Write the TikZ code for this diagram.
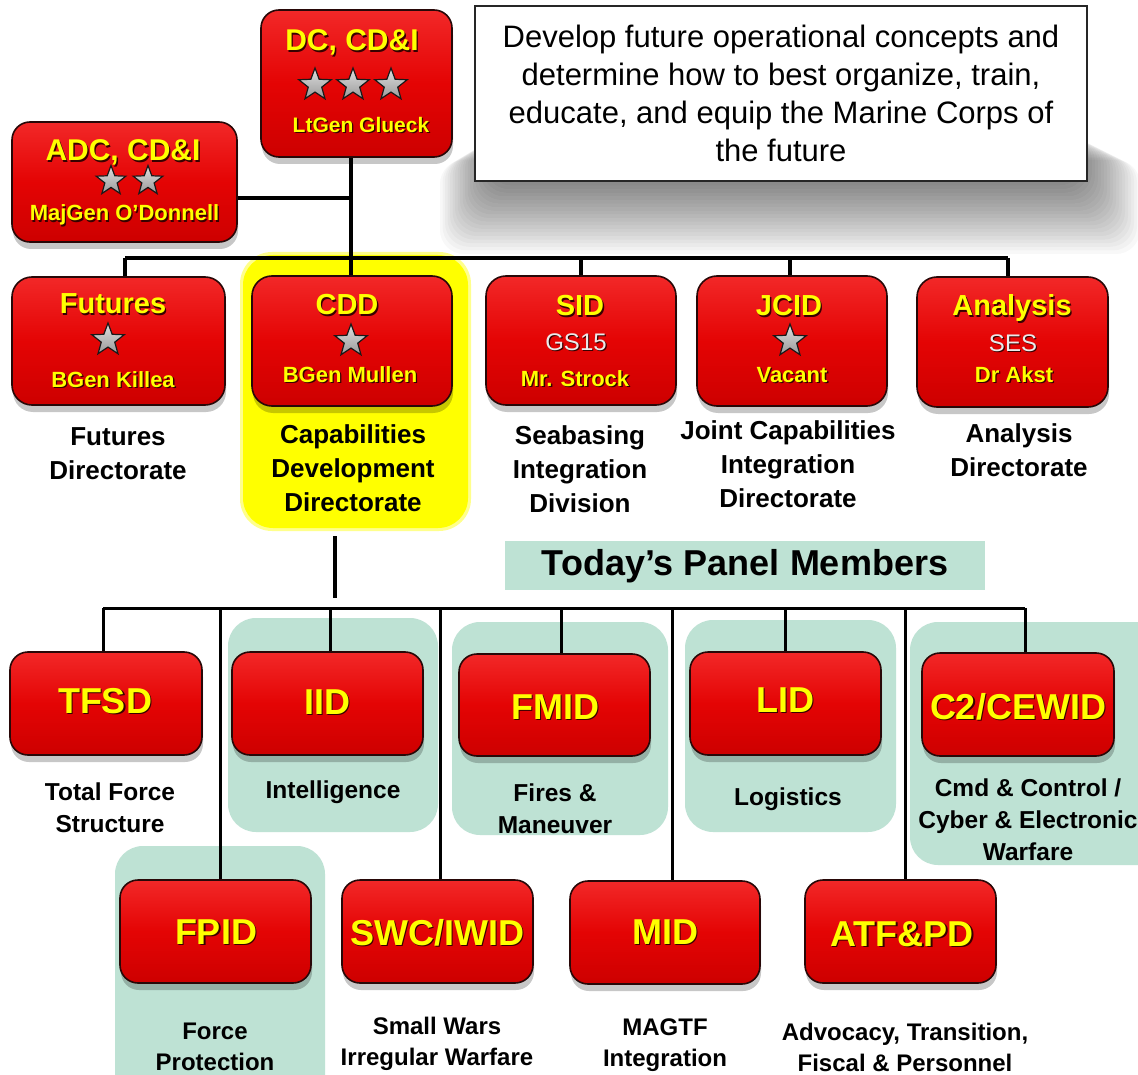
\documentclass[tikz,border=0pt]{standalone}
\usepackage{fontspec}
\setmainfont{Liberation Sans}
\usetikzlibrary{shapes.geometric,shadows}
\definecolor{boxred}{RGB}{228,4,4}
\definecolor{boxredtop}{RGB}{242,40,40}
\definecolor{boxreddark}{RGB}{205,0,0}
\definecolor{boxedge}{RGB}{40,8,8}
\definecolor{ttlyellow}{RGB}{255,255,0}
\definecolor{txtshadow}{RGB}{55,0,0}
\definecolor{panelgreen}{RGB}{190,226,212}
\definecolor{hiyellow}{RGB}{255,255,0}
\definecolor{gradetext}{RGB}{235,235,235}
\newcommand\fsz[2]{\fontsize{#1}{#2}\selectfont}
\newcommand\ys[1]{\leavevmode\rlap{\hspace{1.4pt}\raisebox{-1.4pt}{\textcolor{txtshadow}{#1}}}\textcolor{ttlyellow}{#1}}
\newcommand\ws[1]{\leavevmode\rlap{\hspace{1.2pt}\raisebox{-1.2pt}{\textcolor{txtshadow}{#1}}}\textcolor{gradetext}{#1}}
\begin{document}
\begin{tikzpicture}[x=1pt,y=-1pt,
  rbox/.style={rectangle, rounded corners=18pt, draw=boxedge, line width=1.6pt,
    top color=boxredtop, bottom color=boxreddark, middle color=boxred,
    drop shadow={shadow xshift=1pt, shadow yshift=-7pt, opacity=0.22, fill=black}, inner sep=0pt},
  ttlA/.style={inner sep=0pt, anchor=base, font=\bfseries\fsz{30}{30}},
  ttlB/.style={inner sep=0pt, anchor=base, font=\bfseries\fsz{29}{29}},
  ttlC/.style={inner sep=0pt, anchor=base, font=\bfseries\fsz{36}{36}},
  nameA/.style={inner sep=0pt, anchor=base, font=\bfseries\fsz{22}{22}},
  grade/.style={inner sep=0pt, anchor=base, font=\fsz{24}{24}},
  gstar/.style={star, star points=5, star point ratio=2.4, minimum size=34pt, inner sep=0pt,
    draw=black!90, line width=1.2pt, top color=gray!25, bottom color=gray!80},
  lblA/.style={inner sep=0pt, align=center, font=\bfseries\fsz{26}{34}},
  lblB/.style={inner sep=0pt, align=center, font=\bfseries\fsz{24.5}{32}},
  lblC/.style={inner sep=0pt, align=center, font=\bfseries\fsz{24}{31}},
  panel/.style={fill=panelgreen, rounded corners=28pt},
  conn/.style={line width=4.5pt, black},
  conn2/.style={line width=3pt, black}
]
\useasboundingbox (0,0) rectangle (1138,1075);
\fill[white] (0,0) rectangle (1138,1075);

% ---- description box with soft shadow
\foreach \i in {1,...,20} {\fill[black,opacity=0.028,rounded corners=24pt] (490-2.5*\i,130+1.5*\i) rectangle (1080+3*\i,182+3.6*\i);}
\node[draw=black!85, line width=1.6pt, fill=white, minimum width=612pt, minimum height=175pt,
  align=center, font=\fsz{31}{38}] (desc) at (781,93.5)
  {Develop future operational concepts and\\determine how to best organize, train,\\educate, and equip the Marine Corps of\\the future};

% ---- highlight and panels
\node[fill=hiyellow!45, rounded corners=32pt, minimum width=231pt, minimum height=279pt, inner sep=0pt] (cddglow) at (355.5,391.5) {};
\node[fill=hiyellow, rounded corners=30pt, minimum width=225pt, minimum height=273pt, inner sep=0pt] (cddhl) at (355.5,391.5) {};
\path[panel] (228,618) rectangle (438,832);
\path[panel] (452,622) rectangle (668,835);
\path[panel] (685,620) rectangle (896,832);
\path[panel] (910,622) rectangle (1170,865);
\path[panel] (115,846) rectangle (325,1110);
\node[fill=panelgreen, minimum width=480pt, minimum height=49pt, inner sep=0pt] (tpmbg) at (745,565.5) {};
\node[inner sep=0pt, font=\bfseries\fsz{36}{36}] (tpm) at (745,566) {Today’s Panel Members};

% ---- coordinates of junctions
\coordinate (j1) at (125,258);
\coordinate (j2) at (351,258);
\coordinate (j3) at (581,258);
\coordinate (j4) at (790,258);
\coordinate (j5) at (1008,258);
\coordinate (ja) at (351,198);
\coordinate (k1) at (103,608);
\coordinate (k2) at (220,608);
\coordinate (k3) at (330,608);
\coordinate (kc) at (335,608);
\coordinate (k4) at (440,608);
\coordinate (k5) at (561,608);
\coordinate (k6) at (672,608);
\coordinate (k7) at (785,608);
\coordinate (k8) at (905,608);
\coordinate (k9) at (1025,608);

% ---- boxes
\node[rbox, minimum width=191pt, minimum height=147pt] (dc) at (356.5,83.5) {};
\node[rbox, minimum width=225pt, minimum height=120pt] (adc) at (124.5,182) {};
\node[rbox, rounded corners=20pt, minimum width=213pt, minimum height=128pt] (fut) at (118.5,341) {};
\node[rbox, rounded corners=20pt, minimum width=200pt, minimum height=130pt] (cdd) at (352,341) {};
\node[rbox, rounded corners=20pt, minimum width=190pt, minimum height=129pt] (sid) at (581,340.5) {};
\node[rbox, rounded corners=20pt, minimum width=190pt, minimum height=130pt] (jcid) at (792,341) {};
\node[rbox, rounded corners=20pt, minimum width=191pt, minimum height=130pt] (ana) at (1012.5,342) {};

\node[rbox, minimum width=192pt, minimum height=103pt] (tfsd) at (106,703.5) {};
\node[rbox, minimum width=191pt, minimum height=103pt] (iid) at (327.5,703.5) {};
\node[rbox, minimum width=191pt, minimum height=102pt] (fmid) at (554.5,705) {};
\node[rbox, minimum width=191pt, minimum height=103pt] (lid) at (785.5,703.5) {};
\node[rbox, minimum width=192pt, minimum height=103pt] (c2) at (1018,704.5) {};
\node[rbox, minimum width=191pt, minimum height=103pt] (fpid) at (215.5,931.5) {};
\node[rbox, minimum width=191pt, minimum height=103pt] (swc) at (437.5,931.5) {};
\node[rbox, minimum width=190pt, minimum height=103pt] (mid) at (665,932.5) {};
\node[rbox, minimum width=191pt, minimum height=103pt] (atf) at (900.5,931.5) {};

% ---- connectors
\draw[conn] (dc.south -| j2) -- (j2);
\draw[conn] (ja -| adc.east) -- (ja);
\draw[conn] (j1) -- (j5);
\draw[conn] (j1) -- (j1 |- fut.north);
\draw[conn] (j2) -- (j2 |- cdd.north);
\draw[conn] (j3) -- (j3 |- sid.north);
\draw[conn] (j4) -- (j4 |- jcid.north);
\draw[conn] (j5) -- (j5 |- ana.north);

\draw[conn] ([yshift=-8pt]cddhl.south -| kc) -- ([yshift=10pt]kc);
\draw[conn2] (k1) -- (k9);
\draw[conn2] (k1) -- (k1 |- tfsd.north);
\draw[conn2] (k2) -- (k2 |- fpid.north);
\draw[conn2] (k3) -- (k3 |- iid.north);
\draw[conn2] (k4) -- (k4 |- swc.north);
\draw[conn2] (k5) -- (k5 |- fmid.north);
\draw[conn2] (k6) -- (k6 |- mid.north);
\draw[conn2] (k7) -- (k7 |- lid.north);
\draw[conn2] (k8) -- (k8 |- atf.north);
\draw[conn2] (k9) -- (k9 |- c2.north);

% ---- box contents
\node[ttlA] (dct) at (352,51) {\ys{DC, CD\&I}};
\node[gstar] (dcs1) at (315,85) {};
\node[gstar] (dcs2) at (353,85) {};
\node[gstar] (dcs3) at (391,85) {};
\node[inner sep=0pt, anchor=base, font=\bfseries\fsz{21}{21}] (dcn) at (361,132.5) {\ys{LtGen Glueck}};

\node[ttlA] (adct) at (123,161) {\ys{ADC, CD\&I}};
\node[gstar, minimum size=31pt] (adcs1) at (111,181) {};
\node[gstar, minimum size=31pt] (adcs2) at (148,181) {};
\node[nameA] (adcn) at (124.5,221) {\ys{MajGen O’Donnell}};

\node[ttlB] (futt) at (113,314) {\ys{Futures}};
\node[gstar] (futs) at (108,340) {};
\node[nameA] (futn) at (113,387) {\ys{BGen Killea}};

\node[ttlB] (cddt) at (347,315) {\ys{CDD}};
\node[gstar] (cdds) at (351,341) {};
\node[nameA] (cddn) at (350,382) {\ys{BGen Mullen}};

\node[ttlB] (sidt) at (580,316) {\ys{SID}};
\node[grade] (sidg) at (576,350.5) {\ws{GS15}};
\node[nameA] (sidn) at (575,386) {\ys{Mr. Strock}};

\node[ttlB] (jcidt) at (789,316) {\ys{JCID}};
\node[gstar] (jcids) at (790,341) {};
\node[nameA] (jcidn) at (792,382) {\ys{Vacant}};

\node[ttlB] (anat) at (1012,316) {\ys{Analysis}};
\node[grade] (anag) at (1013,351.5) {\ws{SES}};
\node[nameA] (anan) at (1014,382) {\ys{Dr Akst}};

\node[ttlC] (tfsdt) at (105,713) {\ys{TFSD}};
\node[ttlC] (iidt) at (327,714) {\ys{IID}};
\node[ttlC] (fmidt) at (555,719) {\ys{FMID}};
\node[ttlC] (lidt) at (785,712) {\ys{LID}};
\node[ttlC] (c2t) at (1018,719) {\ys{C2/CEWID}};
\node[ttlC] (fpidt) at (216,944) {\ys{FPID}};
\node[ttlC] (swct) at (437,945) {\ys{SWC/IWID}};
\node[ttlC] (midt) at (665,944) {\ys{MID}};
\node[ttlC] (atft) at (902,946) {\ys{ATF\&PD}};

% ---- labels
\node[lblA] (futl) at (118,454) {Futures\\Directorate};
\node[lblA] (cddl) at (353,468) {Capabilities\\Development\\Directorate};
\node[lblA] (sidl) at (580,469) {Seabasing\\Integration\\Division};
\node[lblA] (jcidl) at (788,464) {Joint Capabilities\\Integration\\Directorate};
\node[lblA] (anal) at (1019,450) {Analysis\\Directorate};

\node[lblB] (tfsdl) at (110,808) {Total Force\\Structure};
\node[lblB] (iidl) at (333,792) {Intelligence};
\node[lblB] (fmidl) at (555,809) {Fires \&\\Maneuver};
\node[lblB] (lidl) at (788,799) {Logistics};
\node[lblB] (c2l) at (1028,820) {Cmd \& Control /\\Cyber \& Electronic\\Warfare};

\node[lblC] (fpidl) at (215,1047) {Force\\Protection};
\node[lblC] (swcl) at (437,1044) {Small Wars\\Irregular Warfare};
\node[lblC] (midl) at (665,1045) {MAGTF\\Integration};
\node[lblC] (atfl) at (905,1047) {Advocacy, Transition,\\Fiscal \& Personnel};
\end{tikzpicture}
\end{document}
